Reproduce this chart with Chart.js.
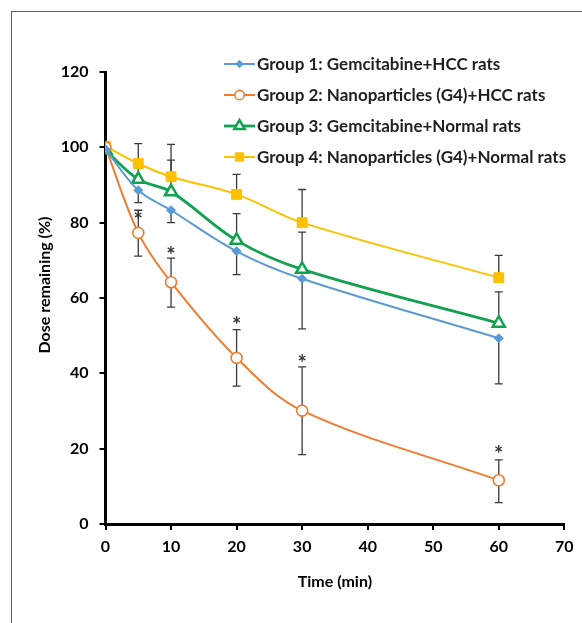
<!DOCTYPE html>
<html>
<head>
<meta charset="utf-8">
<script src="https://cdn.jsdelivr.net/npm/chart.js@4.4.0/dist/chart.umd.min.js"></script>
<style>
  html, body { margin: 0; padding: 0; background: #fff; overflow: hidden; }
  #moldura { position: absolute; left: 11px; top: 11px; width: 620px; height: 660px; border: 1.5px solid #5e5e5e; }
  #area { position: absolute; left: 0; top: 0; width: 582px; height: 623px; }
</style>
</head>
<body>
<div id="moldura"></div>
<div id="area"><canvas id="grafico" width="582" height="623"></canvas></div>
<script>
const tempos = [0, 5, 10, 20, 30, 60];
const nomes = [
  "Group 1: Gemcitabine+HCC rats",
  "Group 2: Nanoparticles (G4)+HCC rats",
  "Group 3: Gemcitabine+Normal rats",
  "Group 4: Nanoparticles (G4)+Normal rats"
];
const grupo1 = [99.5, 88.6, 83.3, 72.4, 65.1, 49.3];
const grupo1ErroMais = [0, 0, 0, 0, 0, 0];
const grupo1ErroMenos = [0, 3.3, 3.3, 6.2, 13.3, 12.1];
const grupo2 = [100, 77.3, 64.2, 44.1, 30.1, 11.6];
const grupo2ErroMais = [0, 6.0, 6.4, 7.5, 11.6, 5.4];
const grupo2ErroMenos = [0, 6.2, 6.6, 7.5, 11.7, 5.9];
const grupo3 = [99.2, 91.5, 88.2, 75.3, 67.6, 53.3];
const grupo3ErroMais = [0, 3.0, 8.4, 7.1, 9.9, 8.3];
const grupo3ErroMenos = [0, 0, 0, 0, 0, 0];
const grupo4 = [100.3, 95.7, 92.2, 87.5, 80.0, 65.4];
const grupo4ErroMais = [0, 5.3, 8.6, 5.3, 8.8, 5.9];
const grupo4ErroMenos = [0, 0, 0, 0, 0, 0];
const asteriscos = [null, 81.8, 72.4, 53.8, 43.8, 19.6];
const ticksX = [0, 10, 20, 30, 40, 50, 60, 70];
const ticksY = [0, 20, 40, 60, 80, 100, 120];

const fonte = "Lato, 'Open Sans', sans-serif";

const pontos = (valores, mais, menos) => valores.map((v, i) => ({ x: tempos[i], y: v, mais: mais[i], menos: menos[i] }));

const series = [
  { valores: grupo1, mais: grupo1ErroMais, menos: grupo1ErroMenos, cor: "#5B9BD5", estilo: "rectRot", raio: 4.5, borda: 1, fundo: "#5B9BD5", linha: 2 },
  { valores: grupo2, mais: grupo2ErroMais, menos: grupo2ErroMenos, cor: "#ED7D31", estilo: "circle", raio: 5.5, borda: 1.6, fundo: "#ffffff", linha: 2 },
  { valores: grupo3, mais: grupo3ErroMais, menos: grupo3ErroMenos, cor: "#12A150", estilo: "triangle", raio: 7, borda: 2.5, fundo: "#ffffff", linha: 2.8 },
  { valores: grupo4, mais: grupo4ErroMais, menos: grupo4ErroMenos, cor: "#FFC000", estilo: "rect", raio: 7, borda: 1, fundo: "#FFC000", linha: 2 }
];

// barras de erro desenhadas antes das linhas
const barrasErro = {
  id: "barrasErro",
  beforeDatasetsDraw(chart) {
    const { ctx, scales: { x, y } } = chart;
    ctx.save();
    ctx.strokeStyle = "#3a3a3a";
    ctx.lineWidth = 1.3;
    chart.data.datasets.forEach(ds => {
      ds.data.forEach(p => {
        const px = x.getPixelForValue(p.x);
        const meio = y.getPixelForValue(p.y);
        [p.mais, -p.menos].forEach(e => {
          if (!e) return;
          const fim = y.getPixelForValue(p.y + e);
          ctx.beginPath();
          ctx.moveTo(px, meio); ctx.lineTo(px, fim);
          ctx.moveTo(px - 4, fim); ctx.lineTo(px + 4, fim);
          ctx.stroke();
        });
      });
    });
    ctx.restore();
  },
  afterDatasetsDraw(chart) {
    const { ctx, scales: { x, y } } = chart;
    const tam = 22;
    ctx.save();
    ctx.fillStyle = "#333";
    ctx.font = "bold " + tam + "px " + fonte;
    ctx.textAlign = "center";
    ctx.textBaseline = "alphabetic";
    asteriscos.forEach((v, i) => {
      if (v === null) return;
      ctx.fillText("*", x.getPixelForValue(tempos[i]), y.getPixelForValue(v) + tam * 0.55);
    });
    ctx.restore();
  }
};

const legenda = {
  id: "legenda",
  afterDraw(chart) {
    const { ctx, chartArea } = chart;
    const x0 = chartArea.left + 118.5;
    const y0 = chartArea.top - 8;
    ctx.save();
    chart.data.datasets.forEach((ds, i) => {
      const yy = y0 + i * 31;
      ctx.strokeStyle = ds.borderColor;
      ctx.lineWidth = ds.borderWidth;
      ctx.beginPath();
      ctx.moveTo(x0, yy); ctx.lineTo(x0 + 31, yy);
      ctx.stroke();
      ctx.fillStyle = ds.pointBackgroundColor;
      ctx.strokeStyle = ds.borderColor;
      ctx.lineWidth = ds.pointBorderWidth;
      Chart.helpers.drawPoint(ctx, {
        pointStyle: ds.pointStyle, radius: ds.pointRadius * 0.85, borderWidth: ds.pointBorderWidth, rotation: 0
      }, x0 + 15.5, yy);
      ctx.fillStyle = "#1f1f1f";
      ctx.font = "bold 17px " + fonte;
      ctx.textAlign = "left";
      ctx.textBaseline = "middle";
      ctx.fillText(nomes[i], x0 + 33, yy + 1);
    });
    // titulo do eixo Y
    ctx.translate(45, (chartArea.top + chartArea.bottom) / 2 - 13);
    ctx.rotate(-Math.PI / 2);
    ctx.fillStyle = "#000";
    ctx.font = "bold 16px " + fonte;
    ctx.textAlign = "center";
    ctx.textBaseline = "middle";
    ctx.fillText("Dose remaining (%)", 0, 0);
    ctx.restore();
  }
};

new Chart(document.getElementById("grafico"), {
  type: "line",
  data: {
    datasets: series.map((s, i) => ({
      label: nomes[i],
      data: pontos(s.valores, s.mais, s.menos),
      borderColor: s.cor,
      borderWidth: s.linha,
      pointStyle: s.estilo,
      pointRadius: s.raio,
      pointBorderWidth: s.borda,
      pointBackgroundColor: s.fundo,
      pointBorderColor: s.cor,
      tension: 0.35,
      fill: false
    }))
  },
  options: {
    responsive: false,
    animation: false,
    events: [],
    layout: { padding: { left: 0, right: 17.7, top: 72, bottom: 0 } },
    plugins: { legend: { display: false }, tooltip: { enabled: false } },
    scales: {
      x: {
        type: "linear",
        min: 0, max: 70,
        afterFit: s => { s.height = 99; },
        afterBuildTicks: s => { s.ticks = ticksX.map(v => ({ value: v })); },
        border: { color: "#000", width: 3 },
        grid: { drawOnChartArea: false, color: "#000", lineWidth: 2, tickLength: 6 },
        ticks: { color: "#000", padding: 7, font: { family: fonte, size: 16, weight: "bold" } },
        title: { display: true, text: "Time (min)", color: "#000", padding: { bottom: 32 }, font: { family: fonte, size: 16, weight: "bold" } }
      },
      y: {
        min: 0, max: 120,
        afterFit: s => { s.width = 105.5; },
        afterBuildTicks: s => { s.ticks = ticksY.map(v => ({ value: v })); },
        border: { color: "#000", width: 3 },
        grid: { drawOnChartArea: false, color: "#000", lineWidth: 2, tickLength: 6 },
        ticks: { color: "#000", padding: 11, font: { family: fonte, size: 16, weight: "bold" } }
      }
    }
  },
  plugins: [barrasErro, legenda]
});
</script>
</body>
</html>
